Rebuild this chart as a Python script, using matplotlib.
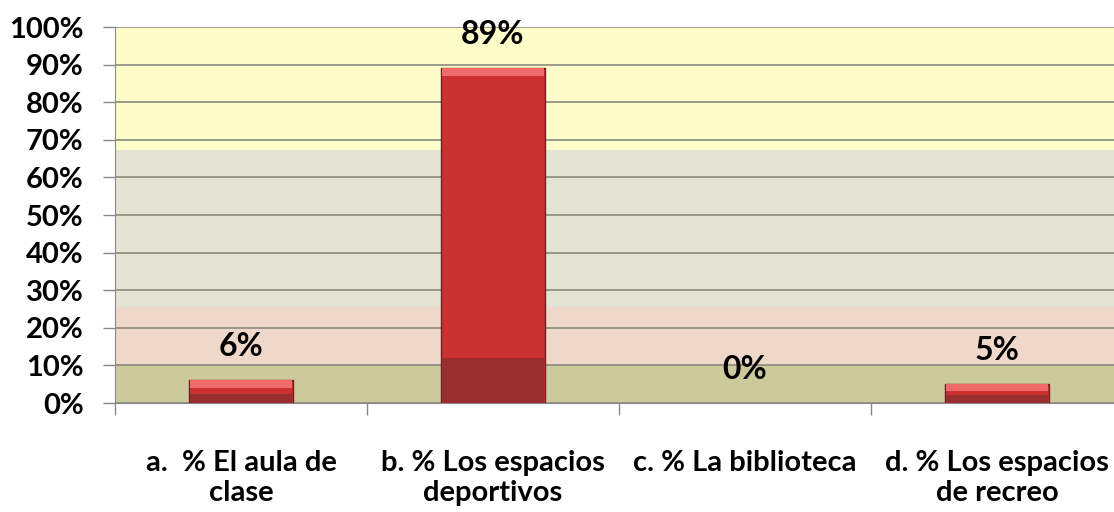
import matplotlib.pyplot as plt
import numpy as np

categories = ["a.  % El aula de\nclase", "b. % Los espacios\ndeportivos",
              "c. % La biblioteca", "d. % Los espacios\nde recreo"]
values = [6, 89, 0, 5]
value_labels = ["6%", "89%", "0%", "5%"]
yticks = list(range(0, 101, 10))

# background bands (lower, upper, colour)
bands = [(0, 10, "#CCCA9C"), (10, 25.5, "#EFD7CA"),
         (25.5, 67.3, "#E4E4D4"), (67.3, 100, "#FEFDCA")]

plt.rcParams['font.family'] = ['Lato', 'DejaVu Sans']

fig = plt.figure(figsize=(11.14, 5.12), dpi=100)
ax = fig.add_axes([115 / 1114, (512 - 403) / 512, 1008 / 1114, 376 / 512])

x = np.arange(len(categories))
for lo, hi, c in bands:
    ax.axhspan(lo, hi, color=c, zorder=0, lw=0)

ax.set_ylim(0, 100)
ax.set_xlim(-0.5, len(categories) - 0.5)
ax.set_yticks(yticks)
ax.set_yticklabels([f"{t}%" for t in yticks], fontsize=21, fontweight='bold')
ax.yaxis.grid(True, color="#8A8A80", lw=1.2, zorder=1)
ax.set_axisbelow(False)

w = 0.41
edge_w = [1 if v > 0 else 0 for v in values]
ax.bar(x, values, width=w, color="#CB3131", edgecolor="#6E2020", lw=edge_w, zorder=3)
# darker lower part and lighter bevel on top
dark = [12 if v > 20 else v * 0.4 for v in values]
ax.bar(x, dark, width=w * 0.98, color="#992E2E", lw=0, zorder=3.5)
bevel = [min(2.0, v * 0.35) for v in values]
ax.bar(x, bevel, bottom=[v - b for v, b in zip(values, bevel)],
       width=w * 0.98, color="#F06A6A", lw=0, zorder=4)

for xi, v, lab in zip(x, values, value_labels):
    ax.text(xi, v + 9, lab, ha='center', va='center', fontsize=23, fontweight='bold', zorder=5)

ax.set_xticks(x)
ax.set_xticklabels(categories, fontsize=21, fontweight='bold', linespacing=1.2)
ax.tick_params(axis='x', length=0, pad=34)
ax.set_xticks(np.arange(-0.5, len(categories), 1), minor=True)
ax.tick_params(axis='x', which='minor', length=8.6, color="#888888", width=1)
ax.tick_params(axis='y', length=8.6, color="#888888", width=1, pad=14)

for s in ['top', 'right']:
    ax.spines[s].set_visible(False)
ax.spines['left'].set_color("#888888")
ax.spines['bottom'].set_color("#888888")

fig.savefig("out.png", dpi=100)
